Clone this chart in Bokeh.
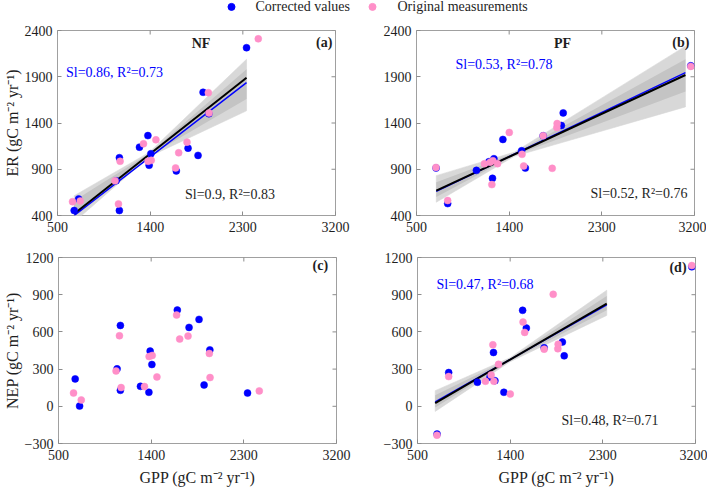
import math
from bokeh.plotting import figure
from bokeh.layouts import column, row
from bokeh.models import FixedTicker, Label, Range1d
from bokeh.core.properties import value
from bokeh.embed import file_html
from bokeh.resources import INLINE

# ---------------- data ----------------
gpp_ticks = [500, 1400, 2300, 3200]
er_ticks = [400, 900, 1400, 1900, 2400]
nep_ticks = [-300, 0, 300, 600, 900, 1200]

# NF sites (panels a, c)
nf_gpp_cor = [662, 705, 1069, 1101, 1101, 1296, 1378, 1390, 1407, 1654, 1768, 1865, 1914, 1970, 2336]
nf_er_cor = [454, 579, 775, 1025, 454, 1139, 1264, 943, 1068, 882, 1128, 1050, 1732, 1500, 2214]
nf_nep_cor = [221, 2, 302, 652, 129, 161, 113, 445, 337, 776, 636, 701, 172, 455, 107]

nf_gpp_ori = [646, 721, 1059, 1092, 1108, 1335, 1380, 1410, 1456, 1647, 1677, 1758, 1965, 1972, 2450]
nf_er_ori = [550, 557, 775, 525, 986, 1175, 986, 996, 1218, 914, 1078, 1193, 1728, 1507, 2310]
nf_nep_ori = [107, 51, 285, 569, 151, 159, 401, 410, 237, 736, 542, 566, 426, 232, 124]

# PF sites (panels b, d)
pf_gpp_cor = [690, 803, 1082, 1204, 1238, 1252, 1339, 1521, 1557, 1730, 1907, 1925, 3164]
pf_er_cor = [913, 529, 888, 982, 802, 1014, 1222, 1100, 913, 1262, 1373, 1509, 2019]
pf_nep_cor = [-224, 272, 194, 234, 434, 207, 113, 774, 631, 472, 518, 407, 1125]

pf_gpp_ori = [689, 803, 1160, 1215, 1232, 1242, 1287, 1401, 1525, 1541, 1730, 1818, 1863, 1866, 3164]
pf_er_ori = [920, 562, 960, 975, 734, 992, 960, 1298, 1061, 935, 1262, 910, 1351, 1394, 2012]
pf_nep_ori = [-233, 240, 202, 253, 496, 202, 339, 99, 679, 596, 461, 903, 464, 501, 1135]

# regression lines (x ends, y ends): black = original fit, blue = corrected fit
fit_a_x = [662, 2336]; fit_a_black = [418, 1889]; fit_a_blue = [400, 1836]
fit_b_x = [692, 3112]; fit_b_black = [669, 1919]; fit_b_blue = [661, 1944]
fit_d_x = [672, 2338]; fit_d_black = [26, 828]; fit_d_blue = [35, 818]

# bootstrap fan envelopes: x at left end, waist, right end (outer and inner)
fan_a_x = [662, 1390, 2336]; fan_a_hi = [614, 1082, 2089]; fan_a_lo = [330, 1036, 1532]
fan_a_ihi = [560, 1070, 1980]; fan_a_ilo = [400, 1046, 1660]
fan_b_x = [692, 1450, 3112]; fan_b_hi = [831, 1085, 2231]; fan_b_lo = [544, 1040, 1574]
fan_b_ihi = [760, 1074, 2090]; fan_b_ilo = [600, 1050, 1740]
fan_d_x = [672, 1400, 2338]; fan_d_hi = [126, 392, 936]; fan_d_lo = [-41, 360, 733]
fan_d_ihi = [90, 386, 890]; fan_d_ilo = [-10, 366, 775]

ann_a = ["Sl=0.86, R\u00b2=0.73", "Sl=0.9, R\u00b2=0.83"]
ann_b = ["Sl=0.53, R\u00b2=0.78", "Sl=0.52, R\u00b2=0.76"]
ann_d = ["Sl=0.47, R\u00b2=0.68", "Sl=0.48, R\u00b2=0.71"]
legend_labels = ["Corrected values", "Original measurements"]

# ---------------- style ----------------
FONT = "Liberation Serif"
BLUE = "#0000ff"
PINK = "#ff8fc8"
GRAY_OUT = "#d8d8d8"
GRAY_IN = "#c4c4c4"
AXC = "#a0a0a0"
TICKC = "#8c8c8c"
TXT = "#1e1e1e"

FW = 278


def style_axis(ax):
    ax.axis_line_color = None
    ax.major_tick_line_color = TICKC
    ax.major_tick_in = 4
    ax.major_tick_out = 0
    ax.minor_tick_line_color = None
    ax.major_label_text_font = FONT
    ax.major_label_text_color = TXT
    ax.major_label_text_font_size = "14px"
    ax.major_label_standoff = 6
    ax.axis_label_text_font = FONT
    ax.axis_label_text_font_size = "16px"
    ax.axis_label_text_font_style = "normal"
    ax.axis_label_text_color = TXT


def panel(yr, yticks, ylabel, xlabel, fh, bl, br, bt, bb):
    p = figure(frame_width=FW, frame_height=fh,
               x_range=Range1d(500, 3200), y_range=Range1d(*yr),
               output_backend="svg", toolbar_location=None,
               min_border_left=bl, min_border_right=br,
               min_border_top=bt, min_border_bottom=bb)
    p.grid.visible = False
    p.outline_line_color = AXC
    p.outline_line_width = 1
    p.background_fill_color = "white"
    p.border_fill_color = "white"
    p.xaxis.ticker = FixedTicker(ticks=gpp_ticks)
    p.yaxis.ticker = FixedTicker(ticks=yticks)
    style_axis(p.xaxis[0])
    style_axis(p.yaxis[0])
    p.yaxis.major_label_standoff = 5
    p.xaxis.axis_label = xlabel
    p.yaxis.axis_label = ylabel
    p.xaxis.axis_label_standoff = 6
    p.yaxis.axis_label_standoff = 1
    # mirrored inward ticks on right and top edges (half of each dash is clipped by the frame)
    p.scatter([3200] * len(yticks), yticks, marker="dash", size=8,
              line_color=TICKC, line_width=1)
    p.scatter(gpp_ticks, [yr[1]] * len(gpp_ticks), marker="dash", size=8, angle=math.pi / 2,
              line_color=TICKC, line_width=1)
    return p


def fan(p, x, hi, lo, ihi, ilo):
    p.patch(x + x[::-1], hi + lo[::-1], fill_color=GRAY_OUT, line_color=GRAY_OUT, line_width=0.6)
    p.patch(x + x[::-1], ihi + ilo[::-1], fill_color=GRAY_IN, line_color=None)


def points(p, gc, yc, go, yo):
    p.scatter(gc, yc, size=7, fill_color=BLUE, line_color=BLUE, line_width=0.5)
    p.scatter(go, yo, size=7, fill_color=PINK, line_color=PINK, line_width=0.5)


def lab(p, x, y, text, color=TXT, align="left", bold=False):
    p.add_layout(Label(x=x, y=y, text=text, text_font=FONT, text_font_size="14px",
                       text_color=color, text_align=align, text_baseline="middle",
                       text_font_style="bold" if bold else "normal"))


ER_LABEL = "ER (gC m\u207b\u00b2 yr\u207b\u00b9)"
NEP_LABEL = "NEP (gC m\u207b\u00b2 yr\u207b\u00b9)"
GPP_LABEL = "GPP (gC m\u207b\u00b2 yr\u207b\u00b9)"

# panel a
pa = panel((400, 2400), er_ticks, ER_LABEL, None, 185, 56, 41, 14, 24)
fan(pa, fan_a_x, fan_a_hi, fan_a_lo, fan_a_ihi, fan_a_ilo)
pa.line(fit_a_x, fit_a_blue, line_color=BLUE, line_width=1.5)
pa.line(fit_a_x, fit_a_black, line_color="black", line_width=2)
points(pa, nf_gpp_cor, nf_er_cor, nf_gpp_ori, nf_er_ori)
lab(pa, 1894, 2259, "NF", align="center", bold=True)
lab(pa, 3170, 2265, "(a)", align="right", bold=True)
lab(pa, 583, 1946, ann_a[0], color=BLUE)
lab(pa, 1738, 627, ann_a[1])

# panel b
pb = panel((400, 2400), er_ticks, None, None, 185, 40, 12, 14, 24)
fan(pb, fan_b_x, fan_b_hi, fan_b_lo, fan_b_ihi, fan_b_ilo)
pb.line(fit_b_x, fit_b_blue, line_color=BLUE, line_width=1.5)
pb.line(fit_b_x, fit_b_black, line_color="black", line_width=2)
points(pb, pf_gpp_cor, pf_er_cor, pf_gpp_ori, pf_er_ori)
lab(pb, 1918, 2259, "PF", align="center", bold=True)
lab(pb, 3150, 2265, "(b)", align="right", bold=True)
lab(pb, 879, 2032, ann_b[0], color=BLUE)
lab(pb, 2190, 638, ann_b[1])

# panel c
pc = panel((-300, 1200), nep_ticks, NEP_LABEL, GPP_LABEL, 186, 56, 41, 18, 45)
points(pc, nf_gpp_cor, nf_nep_cor, nf_gpp_ori, nf_nep_ori)
lab(pc, 3118, 1136, "(c)", align="right", bold=True)

# panel d
pd_ = panel((-300, 1200), nep_ticks, None, GPP_LABEL, 186, 40, 12, 18, 45)
fan(pd_, fan_d_x, fan_d_hi, fan_d_lo, fan_d_ihi, fan_d_ilo)
pd_.line(fit_d_x, fit_d_blue, line_color=BLUE, line_width=1.5)
pd_.line(fit_d_x, fit_d_black, line_color="black", line_width=2)
points(pd_, pf_gpp_cor, pf_nep_cor, pf_gpp_ori, pf_nep_ori)
lab(pd_, 3113, 1119, "(d)", align="right", bold=True)
lab(pd_, 685, 982, ann_d[0], color=BLUE)
lab(pd_, 1899, -115, ann_d[1])

# legend strip
leg = figure(width=706, height=16, x_range=Range1d(0, 706), y_range=Range1d(0, 1),
             output_backend="svg", toolbar_location=None,
             min_border_left=0, min_border_right=0, min_border_top=0, min_border_bottom=0)
leg.axis.visible = False
leg.grid.visible = False
leg.outline_line_color = None
leg.scatter([231], [0.6], size=7, fill_color=BLUE, line_color=BLUE)
leg.scatter([372], [0.6], size=7, fill_color=PINK, line_color=PINK)
leg.text([255, 397], [0.6, 0.6], text=legend_labels,
         text_font=value(FONT), text_font_size="14px", text_color=TXT,
         text_baseline="middle", text_align="left")

layout = column(leg, row(pa, pb), row(pc, pd_))

open("out.html", "w").write(file_html(layout, INLINE))
